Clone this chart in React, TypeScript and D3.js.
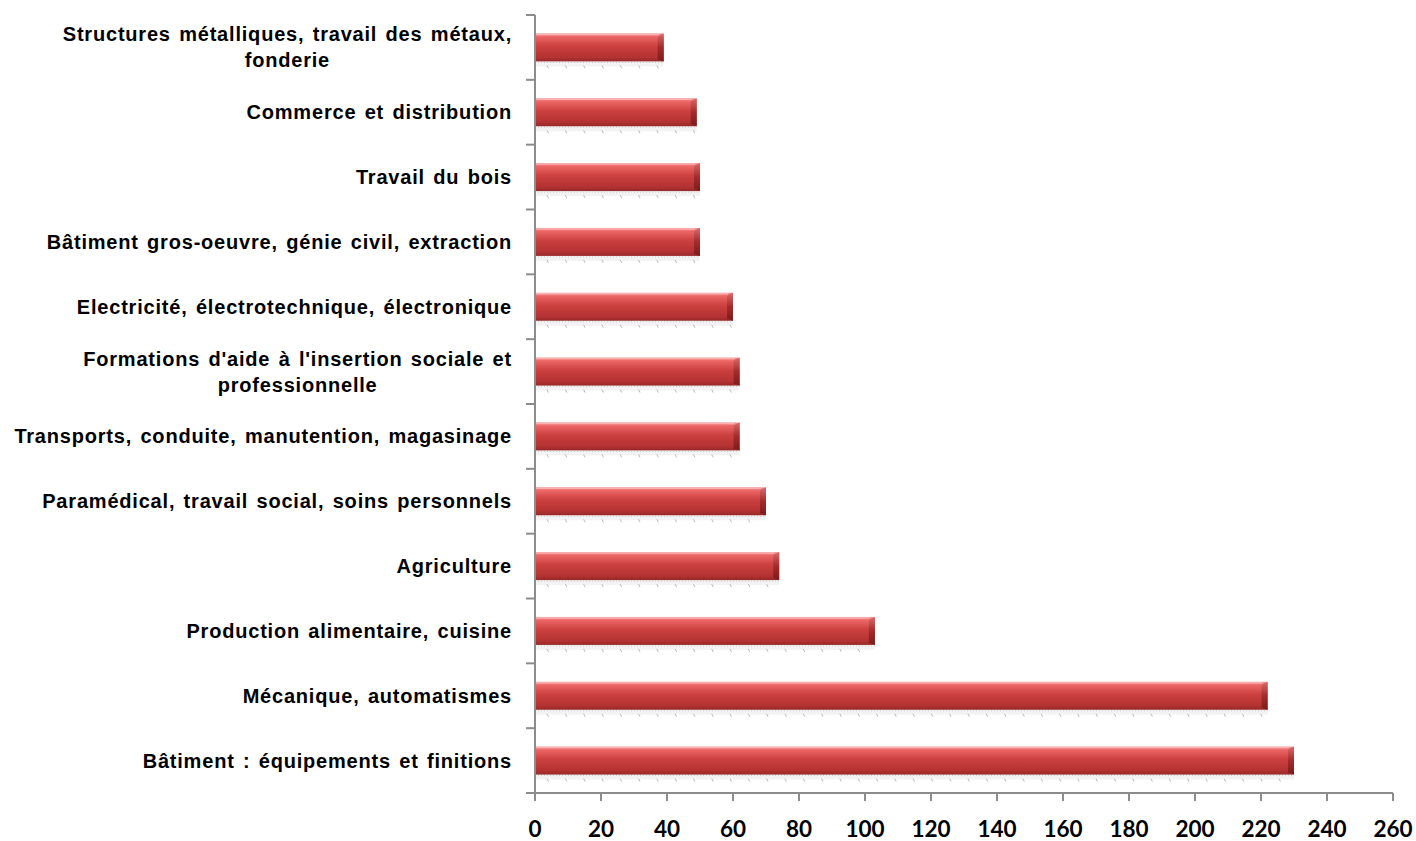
import { useEffect, useRef } from "react";
import * as d3 from "d3";

// categories, top to bottom as shown
const categories: string[][] = [
  ["Structures métalliques, travail des métaux,", "fonderie"],
  ["Commerce et distribution"],
  ["Travail du bois"],
  ["Bâtiment gros-oeuvre, génie civil, extraction"],
  ["Electricité, électrotechnique, électronique"],
  ["Formations d'aide à l'insertion sociale et", "professionnelle"],
  ["Transports, conduite, manutention, magasinage"],
  ["Paramédical, travail social, soins personnels"],
  ["Agriculture"],
  ["Production alimentaire, cuisine"],
  ["Mécanique, automatismes"],
  ["Bâtiment : équipements et finitions"],
];

const values: number[] = [39, 49, 50, 50, 60, 62, 62, 70, 74, 103, 222, 230];

const xTicks: number[] = [0, 20, 40, 60, 80, 100, 120, 140, 160, 180, 200, 220, 240, 260];

const WIDTH = 1416;
const HEIGHT = 841;

export default function App() {
  const svgRef = useRef<SVGSVGElement | null>(null);

  useEffect(() => {
    document.body.style.margin = "0";
    const svg = d3.select(svgRef.current);
    svg.selectAll("*").remove();

    const left = 535;
    const right = 1393;
    const top = 15;
    const bottom = 793;

    const x = d3.scaleLinear().domain([0, 260]).range([left, right]);
    const y = d3
      .scaleBand<number>()
      .domain(d3.range(categories.length))
      .range([top, bottom])
      .paddingInner(0)
      .paddingOuter(0);

    const defs = svg.append("defs");
    const grad = defs
      .append("linearGradient")
      .attr("id", "barGrad")
      .attr("x1", 0)
      .attr("y1", 0)
      .attr("x2", 0)
      .attr("y2", 1);
    grad.append("stop").attr("offset", "0%").attr("stop-color", "#f69a9a");
    grad.append("stop").attr("offset", "12%").attr("stop-color", "#ec6666");
    grad.append("stop").attr("offset", "45%").attr("stop-color", "#cc4040");
    grad.append("stop").attr("offset", "85%").attr("stop-color", "#b43232");
    grad.append("stop").attr("offset", "100%").attr("stop-color", "#962828");

    const capGrad = defs
      .append("linearGradient")
      .attr("id", "capGrad")
      .attr("x1", 0)
      .attr("y1", 0)
      .attr("x2", 0)
      .attr("y2", 1);
    capGrad.append("stop").attr("offset", "0%").attr("stop-color", "#d86a6a");
    capGrad.append("stop").attr("offset", "50%").attr("stop-color", "#a52a2a");
    capGrad.append("stop").attr("offset", "100%").attr("stop-color", "#7a1c1c");

    const barH = 28;
    const g = svg.append("g");

    // floor under each bar
    categories.forEach((_, i) => {
      const cy = (y(i) ?? 0) + y.bandwidth() / 2;
      const by = cy + barH / 2;
      const x1 = x(values[i]);
      g.append("rect")
        .attr("x", left)
        .attr("y", by)
        .attr("width", x1 - left)
        .attr("height", 5)
        .attr("fill", "#f3f3f3");
      g.append("line")
        .attr("x1", left)
        .attr("x2", x1)
        .attr("y1", by + 1)
        .attr("y2", by + 1)
        .attr("stroke", "#c9c9c9")
        .attr("stroke-dasharray", "1,2");
      const marks = d3.range(left + 12, x1, 18.3);
      g.selectAll(null)
        .data(marks)
        .join("line")
        .attr("x1", (d) => d)
        .attr("x2", (d) => d + 1.5)
        .attr("y1", by + 4)
        .attr("y2", by + 7)
        .attr("stroke", "#b9b9b9")
        .attr("stroke-width", 1);
    });

    // bars
    categories.forEach((_, i) => {
      const cy = (y(i) ?? 0) + y.bandwidth() / 2;
      const by = cy - barH / 2;
      const w = x(values[i]) - left;
      g.append("rect")
        .attr("x", left)
        .attr("y", by)
        .attr("width", w)
        .attr("height", barH)
        .attr("fill", "url(#barGrad)");
      g.append("path")
        .attr(
          "d",
          `M${left + w - 6},${by + 3} L${left + w},${by} L${left + w},${by + barH} L${left + w - 6},${by + barH - 2} Z`
        )
        .attr("fill", "url(#capGrad)");
      g.append("line")
        .attr("x1", left)
        .attr("x2", left + w - 5)
        .attr("y1", by + 1)
        .attr("y2", by + 1)
        .attr("stroke", "#fbb0b0")
        .attr("stroke-width", 1.5);
    });

    // axes
    const axisColor = "#8c8c8c";
    svg
      .append("line")
      .attr("x1", left)
      .attr("x2", left)
      .attr("y1", top)
      .attr("y2", bottom)
      .attr("stroke", axisColor)
      .attr("stroke-width", 2);
    svg
      .append("line")
      .attr("x1", left)
      .attr("x2", right)
      .attr("y1", bottom)
      .attr("y2", bottom)
      .attr("stroke", axisColor)
      .attr("stroke-width", 2);

    const yTickPos = d3.range(categories.length + 1).map((i) => top + i * y.bandwidth());
    svg
      .selectAll(null)
      .data(yTickPos)
      .join("line")
      .attr("x1", left - 9)
      .attr("x2", left)
      .attr("y1", (d) => d)
      .attr("y2", (d) => d)
      .attr("stroke", axisColor)
      .attr("stroke-width", 2);

    svg
      .selectAll(null)
      .data(xTicks)
      .join("line")
      .attr("x1", (d) => x(d))
      .attr("x2", (d) => x(d))
      .attr("y1", bottom)
      .attr("y2", bottom + 8)
      .attr("stroke", axisColor)
      .attr("stroke-width", 2);

    svg
      .selectAll(null)
      .data(xTicks)
      .join("text")
      .attr("x", (d) => x(d))
      .attr("y", 837)
      .attr("text-anchor", "middle")
      .attr("font-family", "Lato, 'Open Sans', sans-serif")
      .attr("font-weight", 700)
      .attr("font-size", 22.5)
      .attr("fill", "#000")
      .text((d) => String(d));

    // category labels
    const labelRight = 512;
    const lineH = 26;
    categories.forEach((lines, i) => {
      const cy = (y(i) ?? 0) + y.bandwidth() / 2;
      const t = svg
        .append("text")
        .attr("font-family", "'Liberation Sans', Arial, sans-serif")
        .attr("font-weight", 700)
        .attr("font-size", 20)
        .attr("letter-spacing", 0.8)
        .attr("word-spacing", 2)
        .attr("fill", "#000")
        .attr("text-anchor", "middle");
      const spans = lines.map((line, k) =>
        t
          .append("tspan")
          .attr("y", cy + 7 + (k - (lines.length - 1) / 2) * lineH)
          .text(line)
      );
      const widths = spans.map((s) => (s.node() as SVGTSpanElement).getComputedTextLength());
      const maxW = d3.max(widths) ?? 0;
      spans.forEach((s) => s.attr("x", labelRight - maxW / 2));
    });
  }, []);

  return <svg ref={svgRef} width={WIDTH} height={HEIGHT} style={{ display: "block", background: "#fff" }} />;
}
